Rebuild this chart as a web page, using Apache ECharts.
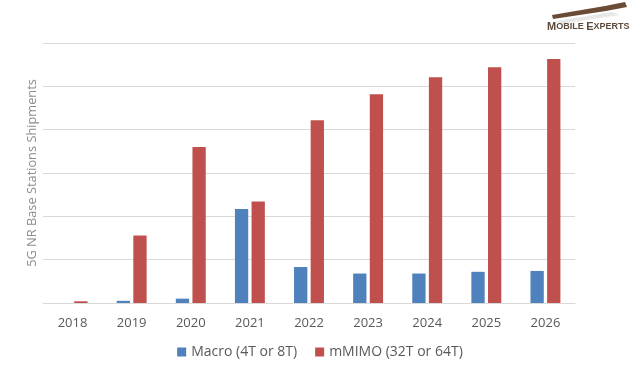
<!DOCTYPE html>
<html><head><meta charset="utf-8">
<script src="https://cdn.jsdelivr.net/npm/echarts@6/dist/echarts.min.js"></script>
<style>html,body{margin:0;padding:0;background:#fff}#c{width:640px;height:373px}</style>
</head><body><div id="c"></div>
<script>
const categories = ['2018','2019','2020','2021','2022','2023','2024','2025','2026'];
const macro = [0, 0.05, 0.1, 2.17, 0.83, 0.68, 0.68, 0.72, 0.74];
const mmimo = [0.04, 1.56, 3.6, 2.34, 4.22, 4.82, 5.21, 5.44, 5.63];
const seriesNames = ['Macro (4T or 8T)', 'mMIMO (32T or 64T)'];
const yAxisName = '5G NR Base Stations Shipments';

const chart = echarts.init(document.getElementById('c'), null, {renderer: 'canvas'});
const font = '"Open Sans", sans-serif';
chart.setOption({
  animation: false,
  color: ['#4F81BD', '#C0504D'],
  grid: {left: 43, right: 65, top: 43, bottom: 70},
  legend: {
    bottom: 9, left: 'center',
    itemWidth: 9, itemHeight: 9, itemGap: 18,
    icon: 'rect',
    textStyle: {color: '#595959', fontSize: 14, fontFamily: font},
    data: seriesNames
  },
  xAxis: {
    type: 'category', data: categories,
    axisLine: {show: true, lineStyle: {color: '#d9d9d9'}},
    axisTick: {show: false},
    axisLabel: {color: '#595959', fontSize: 13, fontFamily: font, margin: 14}
  },
  yAxis: {
    type: 'value', min: 0, max: 6, interval: 1,
    name: yAxisName, nameLocation: 'middle', nameGap: 4,
    nameTextStyle: {color: '#8c8c8c', fontSize: 12.8, fontFamily: font},
    axisLabel: {show: false},
    axisLine: {show: false}, axisTick: {show: false},
    splitLine: {lineStyle: {color: '#d9d9d9'}}
  },
  series: [
    {name: seriesNames[0], type: 'bar', data: macro, barWidth: '22.5%', barGap: '25%'},
    {name: seriesNames[1], type: 'bar', data: mmimo, barWidth: '22.5%', barGap: '25%'}
  ],
  graphic: [
    {type: 'polygon', shape: {points: [[552,15],[605,6],[625,2],[627,7],[606,11],[553,19]]},
      style: {fill: '#6b4a36'}},
    {type: 'polygon', shape: {points: [[556,21],[612,12],[620,15],[560,24]]},
      style: {fill: '#e8e8e8'}},
    {type: 'text', left: 547, top: 21,
      style: {
        text: '{a|M}{b|OBILE }{a|E}{b|XPERTS}',
        fill: '#5c4a3c',
        rich: {
          a: {fontSize: 11, fontWeight: 'bold', fontFamily: '"Liberation Sans", sans-serif', fill: '#5c4a3c'},
          b: {fontSize: 9, fontWeight: 'bold', fontFamily: '"Liberation Sans", sans-serif', fill: '#5c4a3c'}
        }
      }}
  ]
});
</script></body></html>
